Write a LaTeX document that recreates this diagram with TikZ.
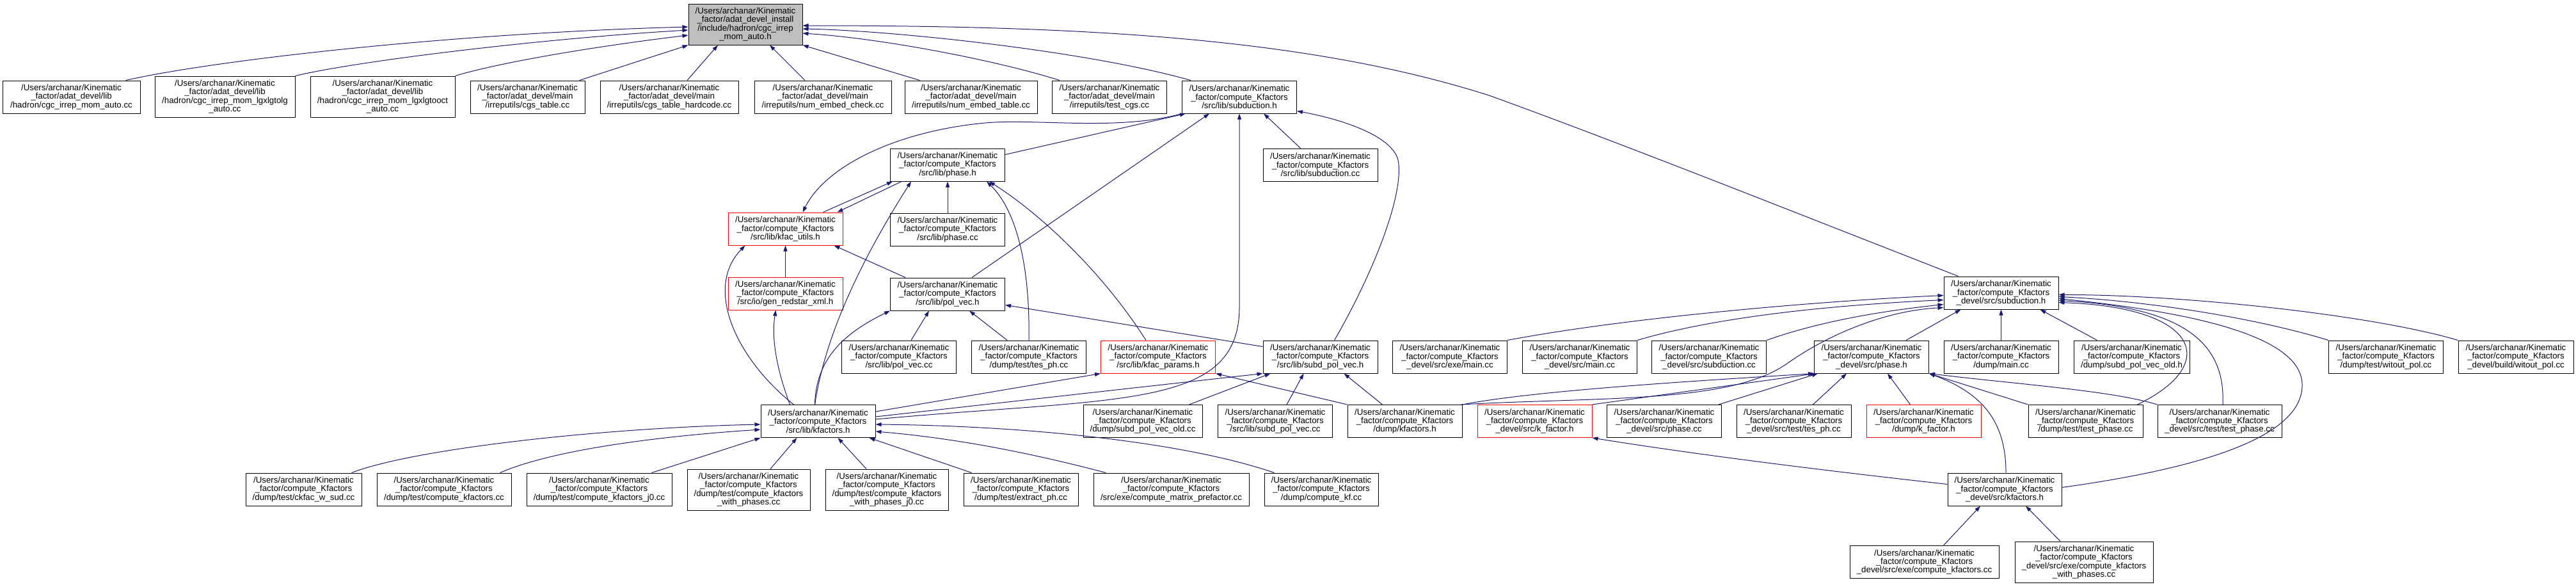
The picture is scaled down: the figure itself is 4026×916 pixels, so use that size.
\documentclass[tikz,border=0pt]{standalone}
\usepackage{fontspec}
\setmainfont{Liberation Sans}
\usepackage{xcolor}
\usepackage{tikz}
\usetikzlibrary{arrows.meta,calc,positioning}
\definecolor{doxyedge}{RGB}{25,25,112}
\definecolor{doxygray}{RGB}{191,191,191}
\newcommand{\kinpath}{/Users/archanar/Kinematic}
\newcommand{\kfpath}{\_factor/compute\_Kfactors}
\newcommand{\adatpath}{\_factor/adat\_devel}

\begin{document}
\begin{tikzpicture}[
  x=1pt, y=-1pt,
  file/.style  = {draw=black, fill=white, align=center, inner sep=0pt,
                  font=\fontsize{13.3pt}{13.3pt}\selectfont,
                  minimum width=#1, minimum height=51pt, line width=1pt},
  file/.default = 179pt,
  tall/.style  = {minimum height=64pt},
  trunc/.style = {draw=red},
  arr/.style   = {-{Triangle[length=9pt,width=6pt]},
                  line width=1pt, draw=doxyedge, fill=none},
]
\useasboundingbox (0,0) rectangle (4026,916);

\node[file=178pt, tall, fill=doxygray] (cgc) at (1165,38)
    {\kinpath\\\adatpath\_install\\/include/hadron/cgc\_irrep\\\_mom\_auto.h};
\node[file=215pt] (lmom) at (111.5,151.5)
    {\kinpath\\\adatpath/lib\\/hadron/cgc\_irrep\_mom\_auto.cc};
\node[file=219pt, tall] (llg) at (351.5,151)
    {\kinpath\\\adatpath/lib\\/hadron/cgc\_irrep\_mom\_lgxlgtolg\\\_auto.cc};
\node[file=226pt, tall] (loct) at (598,151)
    {\kinpath\\\adatpath/lib\\/hadron/cgc\_irrep\_mom\_lgxlgtooct\\\_auto.cc};
\node[file] (mcgs) at (824.5,151.5)
    {\kinpath\\\adatpath/main\\/irreputils/cgs\_table.cc};
\node[file=216pt] (mhard) at (1046,151.5)
    {\kinpath\\\adatpath/main\\/irreputils/cgs\_table\_hardcode.cc};
\node[file=214pt] (mchk) at (1286,151.5)
    {\kinpath\\\adatpath/main\\/irreputils/num\_embed\_check.cc};
\node[file=207pt] (mtab) at (1517.5,151.5)
    {\kinpath\\\adatpath/main\\/irreputils/num\_embed\_table.cc};
\node[file] (mtest) at (1734,151.5)
    {\kinpath\\\adatpath/main\\/irreputils/test\_cgs.cc};
\node[file] (subh) at (1937,151.5)
    {\kinpath\\\kfpath\\/src/lib/subduction.h};

\node[file] (phh) at (1481,257.5) {\kinpath\\\kfpath\\/src/lib/phase.h};
\node[file] (subcc) at (2063.5,257.5) {\kinpath\\\kfpath\\/src/lib/subduction.cc};
\node[file, trunc] (kut) at (1227.5,357.5) {\kinpath\\\kfpath\\/src/lib/kfac\_utils.h};
\node[file, below=49pt of phh] (phcc) {\kinpath\\\kfpath\\/src/lib/phase.cc};
\node[file, trunc, below=49pt of kut] (gen) {\kinpath\\\kfpath\\/src/io/gen\_redstar\_xml.h};
\node[file, below=49pt of phcc] (pol) {\kinpath\\\kfpath\\/src/lib/pol\_vec.h};
\node[file] (dsubh) at (3127.5,457.5) {\kinpath\\\kfpath\\\_devel/src/subduction.h};

\node[file] (polcc) at (1405,557.5) {\kinpath\\\kfpath\\/src/lib/pol\_vec.cc};
\node[file] (tesph) at (1608,557.5) {\kinpath\\\kfpath\\/dump/test/tes\_ph.cc};
\node[file, trunc] (kpar) at (1810,557.5) {\kinpath\\\kfpath\\/src/lib/kfac\_params.h};
\node[file] (spv) at (2063.5,557.5) {\kinpath\\\kfpath\\/src/lib/subd\_pol\_vec.h};
\node[file] (dexe) at (2266,557.5) {\kinpath\\\kfpath\\\_devel/src/exe/main.cc};
\node[file] (dmain) at (2469,557.5) {\kinpath\\\kfpath\\\_devel/src/main.cc};
\node[file] (dsubcc) at (2671,557.5) {\kinpath\\\kfpath\\\_devel/src/subduction.cc};
\node[file] (dphh) at (2925,557.5) {\kinpath\\\kfpath\\\_devel/src/phase.h};
\node[file] (dumain) at (3127.5,557.5) {\kinpath\\\kfpath\\/dump/main.cc};
\node[file=181pt] (spvoldh) at (3331.5,557.5) {\kinpath\\\kfpath\\/dump/subd\_pol\_vec\_old.h};
\node[file] (wit) at (3729,557.5) {\kinpath\\\kfpath\\/dump/test/witout\_pol.cc};
\node[file=180pt] (bwit) at (3932,557.5) {\kinpath\\\kfpath\\\_devel/build/witout\_pol.cc};

\node[file] (kfh) at (1278.5,658) {\kinpath\\\kfpath\\/src/lib/kfactors.h};
\node[file=186pt] (spvold) at (1786,658) {\kinpath\\\kfpath\\/dump/subd\_pol\_vec\_old.cc};
\node[file] (spvcc) at (1993,658) {\kinpath\\\kfpath\\/src/lib/subd\_pol\_vec.cc};
\node[file] (dkfh) at (2195.5,658) {\kinpath\\\kfpath\\/dump/kfactors.h};
\node[file, trunc] (dkf) at (2398.5,658) {\kinpath\\\kfpath\\\_devel/src/k\_factor.h};
\node[file] (dphcc) at (2601,658) {\kinpath\\\kfpath\\\_devel/src/phase.cc};
\node[file] (dtes) at (2803.5,658) {\kinpath\\\kfpath\\\_devel/src/test/tes\_ph.cc};
\node[file, trunc] (dumpkf) at (3006.5,658) {\kinpath\\\kfpath\\/dump/k\_factor.h};
\node[file] (dtph) at (3259.5,658) {\kinpath\\\kfpath\\/dump/test/test\_phase.cc};
\node[file=194pt] (dtph2) at (3469,658) {\kinpath\\\kfpath\\\_devel/src/test/test\_phase.cc};

\node[file=181pt] (cw) at (474.5,764.5) {\kinpath\\\kfpath\\/dump/test/ckfac\_w\_sud.cc};
\node[file=210pt] (ckfcc) at (694,764.5) {\kinpath\\\kfpath\\/dump/test/compute\_kfactors.cc};
\node[file=227pt] (ckfj) at (936.5,764.5) {\kinpath\\\kfpath\\/dump/test/compute\_kfactors\_j0.cc};
\node[file=192pt, tall] (ckfw) at (1170,765)
    {\kinpath\\\kfpath\\/dump/test/compute\_kfactors\\\_with\_phases.cc};
\node[file=192pt, tall] (ckfwj) at (1386,765)
    {\kinpath\\\kfpath\\/dump/test/compute\_kfactors\\\_with\_phases\_j0.cc};
\node[file] (exph) at (1595.5,764.5) {\kinpath\\\kfpath\\/dump/test/extract\_ph.cc};
\node[file=243pt] (cmp) at (1830.5,764.5) {\kinpath\\\kfpath\\/src/exe/compute\_matrix\_prefactor.cc};
\node[file=178pt] (ckfkf) at (2065,764.5) {\kinpath\\\kfpath\\/dump/compute\_kf.cc};
\node[file=178pt] (dkfsh) at (3133,764.5) {\kinpath\\\kfpath\\\_devel/src/kfactors.h};
\node[file=233pt] (dckf) at (3007.5,878) {\kinpath\\\kfpath\\\_devel/src/exe/compute\_kfactors.cc};
\node[file=216pt, tall] (dckfw) at (3257,878)
    {\kinpath\\\kfpath\\\_devel/src/exe/compute\_kfactors\\\_with\_phases.cc};

% includes of cgc_irrep_mom_auto.h
\draw[arr] ($(lmom.north east)+(-23,0)$) .. controls (330,95) and (700,52) .. ($(cgc.west)+(0,4)$);
\draw[arr] (llg.north east) .. controls (560,95) and (850,60) .. ($(cgc.west)+(0,9)$);
\draw[arr] (loct.north east) .. controls (790,95) and (950,70) .. ($(cgc.west)+(0,17)$);
\draw[arr] ($(mcgs.north east)+(-9,0)$) -- (cgc.south west);
\draw[arr] ($(mhard.north)+(28,0)$) -- ($(cgc.south)+(-43,0)$);
\draw[arr] ($(mchk.north)+(-28,0)$) -- ($(cgc.south)+(38,0)$);
\draw[arr] ($(mtab.north west)+(24,0)$) -- (cgc.south east);
\draw[arr] ($(mtest.north west)+(12,0)$) .. controls (1560,95) and (1380,60) .. ($(cgc.east)+(0,14)$);
\draw[arr] ($(subh.north west)+(14,0)$) .. controls (1700,80) and (1400,48) .. ($(cgc.east)+(0,7)$);
\draw[arr] ($(dsubh.north west)+(23,0)$) .. controls (2800,330) and (2550,230) .. (2330,150)
    .. controls (2050,60) and (1700,40) .. ($(cgc.east)+(0,2)$);

% src/lib
\draw[arr] ($(phh.north east)+(0,10)$) -- ($(subh.south west)+(6,0)$);
\draw[arr] (subh.south west) .. controls (1750,205) and (1620,185) .. (1540,192)
    .. controls (1400,205) and (1290,260) .. ($(kut.north)+(27,0)$);
\draw[arr] ($(pol.north)+(38,0)$) -- ($(subh.south)+(-47,0)$);
\draw[arr] ($(kfh.east)+(0,-3)$) .. controls (1750,620) and (1937,640) .. (1937,480) -- (subh.south);
\draw[arr] ($(subcc.north)+(-31,0)$) -- ($(subh.south east)+(-52,0)$);
\draw[arr] ($(spv.north)+(22,0)$) .. controls (2150,420) and (2195,300) .. (2185,250)
    .. controls (2175,210) and (2090,185) .. ($(subh.south east)+(0,-4)$);
\draw[arr] ($(kut.north east)+(-31,0)$) -- ($(phh.south west)+(4,0)$);
\draw[arr] ($(phh.south west)+(18,0)$) -- ($(kut.north east)+(-9,0)$);
\draw[arr] ($(kfh.north)+(-5,0)$) .. controls (1290,520) and (1350,400) .. ($(phh.south west)+(33,0)$);
\draw[arr] (phcc) -- (phh);
\draw[arr] (tesph.north) .. controls (1610,420) and (1590,330) .. ($(phh.south east)+(-29,0)$);
\draw[arr] ($(kpar.north)+(-19,0)$) .. controls (1720,420) and (1620,330) .. ($(phh.south east)+(-25,0)$);
\draw[arr] (gen) -- (kut);
\draw[arr] ($(pol.north west)+(24,0)$) -- ($(kut.south east)+(-14,0)$);
\draw[arr] ($(kfh.north)+(-38,0)$) .. controls (1150,560) and (1100,450) .. ($(kut.south west)+(27,0)$);
\draw[arr] ($(kfh.north)+(-44,0)$) .. controls (1215,580) and (1205,530) .. ($(gen.south)+(-15,0)$);
\draw[arr] ($(polcc.north)+(19,0)$) -- ($(pol.south)+(-29,0)$);
\draw[arr] ($(tesph.north)+(-34,0)$) -- ($(pol.south)+(34,0)$);
\draw[arr] ($(spv.north west)+(0,10)$) -- ($(pol.east)+(0,17)$);
\draw[arr] ($(kfh.north)+(-5,0)$) .. controls (1275,560) and (1320,520) .. (pol.south west);
\draw[arr] ($(kfh.east)+(0,-15)$) -- (kpar.south west);
\draw[arr] (dkfh.north west) -- (kpar.south east);
\draw[arr] ($(kfh.east)+(0,-7)$) -- (spv.south west);
\draw[arr] ($(spvold.north east)+(-21,0)$) -- ($(spv.south west)+(12,0)$);
\draw[arr] ($(spvcc.north)+(18,0)$) -- ($(spv.south)+(-26,0)$);
\draw[arr] ($(dkfh.north)+(-35,0)$) -- ($(spv.south)+(37,0)$);

% includes of src/lib/kfactors.h
\draw[arr] ($(cw.north east)+(-16,0)$) .. controls (650,700) and (950,668) .. ($(kfh.west)+(0,5)$);
\draw[arr] ($(ckfcc.north east)+(-18,0)$) .. controls (870,700) and (1050,680) .. ($(kfh.west)+(0,13)$);
\draw[arr] ($(ckfj.north east)+(-32,0)$) -- (kfh.south west);
\draw[arr] ($(ckfw.north)+(34,0)$) -- ($(kfh.south west)+(57,0)$);
\draw[arr] ($(ckfwj.north)+(-32,0)$) -- ($(kfh.south east)+(-59,0)$);
\draw[arr] ($(exph.north west)+(13,0)$) -- ($(kfh.south east)+(-10,0)$);
\draw[arr] ($(cmp.north west)+(20,0)$) .. controls (1620,710) and (1500,685) .. ($(kfh.east)+(0,16)$);
\draw[arr] ($(ckfkf.north west)+(16,0)$) .. controls (1850,690) and (1600,665) .. ($(kfh.east)+(0,5)$);

% _devel
\draw[arr] (dexe.north east) .. controls (2550,495) and (2850,470) .. ($(dsubh.west)+(0,4)$);
\draw[arr] (dmain.north east) .. controls (2700,490) and (2900,475) .. ($(dsubh.west)+(0,11)$);
\draw[arr] (dsubcc.north east) .. controls (2850,500) and (2950,485) .. ($(dsubh.west)+(0,18)$);
\draw[arr] ($(dphh.north east)+(-36,0)$) -- ($(dsubh.south west)+(27,0)$);
\draw[arr] (dumain) -- (dsubh);
\draw[arr] ($(spvoldh.north west)+(37,0)$) -- ($(dsubh.south east)+(-29,0)$);
\draw[arr] (bwit.north west) .. controls (3700,490) and (3400,460) .. ($(dsubh.east)+(0,3)$);
\draw[arr] (wit.north west) .. controls (3520,495) and (3350,470) .. ($(dsubh.east)+(0,6)$);
\draw[arr] ($(dkfsh.east)+(0,-3)$) .. controls (3450,730) and (3600,680) .. (3598,600)
    .. controls (3596,530) and (3450,490) .. ($(dsubh.east)+(0,9)$);
\draw[arr] ($(dtph2.north)+(5,0)$) .. controls (3478,540) and (3420,480) .. ($(dsubh.east)+(0,12)$);
\draw[arr] ($(dtph.north east)+(-9,0)$) .. controls (3470,570) and (3440,480) .. ($(dsubh.east)+(0,15)$);
\draw[arr] ($(dkfh.north east)+(-2,0)$) .. controls (2500,620) and (2700,630) .. (2790,570)
    .. controls (2860,520) and (2950,485) .. ($(dsubh.south west)+(0,-3)$);
\draw[arr] (dkfh.north east) .. controls (2400,610) and (2650,595) .. (dphh.south west);
\draw[arr] (dkf.north east) -- ($(dphh.south west)+(3,0)$);
\draw[arr] ($(dphcc.north east)+(-5,0)$) -- ($(dphh.south west)+(6,0)$);
\draw[arr] ($(dtes.north)+(30,0)$) -- ($(dphh.south)+(-39,0)$);
\draw[arr] ($(dumpkf.north)+(-21,0)$) -- ($(dphh.south)+(25,0)$);
\draw[arr] (dtph.north west) -- (dphh.south east);
\draw[arr] (dtph2.north west) .. controls (3300,610) and (3150,600) .. (dphh.south east);
\draw[arr] ($(dkfsh.north)+(2,0)$) .. controls (3135,660) and (3100,615) .. (dphh.south east);
\draw[arr] ($(dkfsh.west)+(0,-8)$) .. controls (2850,735) and (2650,710) .. (dkf.south east);
\draw[arr] ($(dckf.north)+(30,0)$) -- ($(dkfsh.south)+(-38,0)$);
\draw[arr] ($(dckfw.north)+(-37,0)$) -- ($(dkfsh.south)+(33,0)$);
\end{tikzpicture}
\end{document}
